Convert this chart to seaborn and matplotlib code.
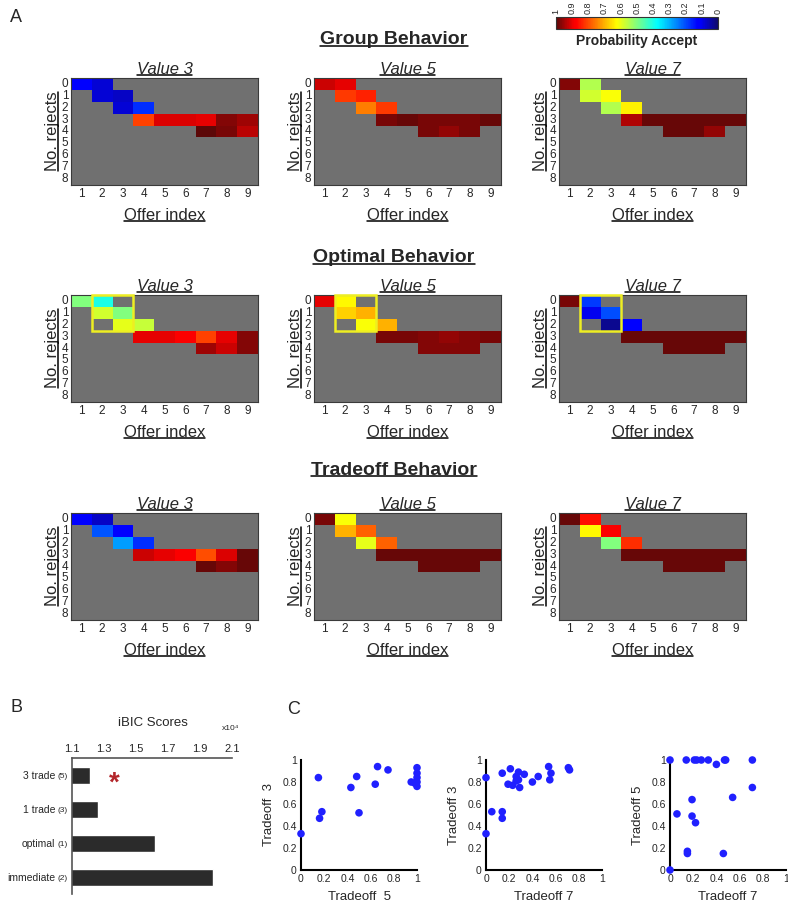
import numpy as np
import pandas as pd
import matplotlib
matplotlib.use("Agg")
import matplotlib.pyplot as plt
import seaborn as sns
from matplotlib.colors import LinearSegmentedColormap
from matplotlib.lines import Line2D
from matplotlib.patches import Rectangle

sns.set_style("white")
plt.rcParams["font.family"] = ["Liberation Sans", "DejaVu Sans"]

W, H = 788, 902
GREY = "#707070"
# jet-like map with the darker ends seen in the figure
CMAP = LinearSegmentedColormap.from_list("jet_dark", [
    (0.00, (0.06, 0.04, 0.42)), (0.11, (0.0, 0.0, 1.0)), (0.125, (0.0, 0.0, 1.0)),
    (0.375, (0.0, 1.0, 1.0)), (0.625, (1.0, 1.0, 0.0)), (0.875, (1.0, 0.0, 0.0)),
    (0.89, (0.97, 0.0, 0.0)), (1.00, (0.36, 0.03, 0.03))])

# ---- heatmap data (probability accept), rows 0-4 only, rest is empty ----
OFFERS = list(range(1, 10))
REJECTS = list(range(0, 9))
ROW_START = [1, 2, 3, 4]          # first offer shown in rows 0..3
ROW4_START = {3: 7, 5: 6, 7: 6}   # first offer shown in row 4, per value
VALUES = [3, 5, 7]
BEHAVIORS = ["Group Behavior", "Optimal Behavior", "Tradeoff Behavior"]

group_v3 = [[0.11, 0.08], [0.08, 0.07], [0.08, 0.17],
            [0.81, 0.91, 0.91, 0.90, 0.97, 0.95], [1.00, 0.98, 0.93]]
group_v5 = [[0.92, 0.90], [0.82, 0.84], [0.75, 0.82],
            [0.98, 0.99, 0.98, 0.98, 0.98, 0.99], [0.98, 0.96, 0.98]]
group_v7 = [[0.97, 0.55], [0.58, 0.62], [0.55, 0.64],
            [0.94, 0.99, 0.99, 0.99, 0.99, 0.99], [0.99, 0.99, 0.96]]
optimal_v3 = [[0.50, 0.40], [0.58, 0.50], [0.60, 0.57],
              [0.90, 0.90, 0.88, 0.81, 0.90, 0.97], [0.95, 0.92, 0.97]]
optimal_v5 = [[0.90, 0.63], [0.67, 0.70], [0.62, 0.70],
              [0.98, 0.98, 0.97, 0.96, 0.97, 0.98], [0.97, 0.97, 0.97]]
optimal_v7 = [[0.98, 0.18], [0.10, 0.20], [0.03, 0.12],
              [0.99, 0.99, 0.99, 0.99, 0.99, 0.99], [0.99, 0.99, 0.99]]
tradeoff_v3 = [[0.11, 0.07], [0.21, 0.11], [0.28, 0.17],
               [0.92, 0.90, 0.88, 0.80, 0.91, 0.99], [0.99, 0.97, 0.99]]
tradeoff_v5 = [[0.98, 0.62], [0.70, 0.78], [0.60, 0.78],
               [0.99, 0.99, 0.99, 0.99, 0.99, 0.99], [0.99, 0.99, 0.99]]
tradeoff_v7 = [[0.99, 0.86], [0.63, 0.88], [0.50, 0.83],
               [0.99, 0.99, 0.99, 0.99, 0.99, 0.99], [0.99, 0.99, 0.99]]

HEAT = [[group_v3, group_v5, group_v7],
        [optimal_v3, optimal_v5, optimal_v7],
        [tradeoff_v3, tradeoff_v5, tradeoff_v7]]
CB_TICKS = [0, 0.1, 0.2, 0.3, 0.4, 0.5, 0.6, 0.7, 0.8, 0.9, 1]

# ---- panel B ----
MODELS = ["3 trade", "1 trade", "optimal", "immediate"]
N_PARAMS = ["(5)", "(3)", "(1)", "(2)"]
IBIC = [1.21, 1.265, 1.62, 1.98]      # x10^4
IBIC_TICKS = [1.1, 1.3, 1.5, 1.7, 1.9, 2.1]

# ---- panel C ----
c1_t5 = [0.00, 0.15, 0.18, 0.16, 0.43, 0.48, 0.50, 0.64, 0.66, 0.75, 0.95, 0.98, 1.00, 1.00, 1.00, 1.00, 1.00]
c1_t3 = [0.33, 0.84, 0.53, 0.47, 0.75, 0.85, 0.52, 0.78, 0.94, 0.91, 0.80, 0.79, 0.93, 0.88, 0.84, 0.80, 0.76]
c2_t7 = [0.00, 0.00, 0.05, 0.14, 0.14, 0.14, 0.19, 0.21, 0.23, 0.26, 0.26, 0.28, 0.28, 0.29, 0.33, 0.40, 0.45,
         0.54, 0.56, 0.55, 0.71, 0.72]
c2_t3 = [0.84, 0.33, 0.53, 0.88, 0.53, 0.47, 0.78, 0.92, 0.77, 0.81, 0.85, 0.89, 0.82, 0.75, 0.87, 0.80, 0.85,
         0.94, 0.88, 0.82, 0.93, 0.91]
c3_t7 = [0.00, 0.00, 0.06, 0.14, 0.21, 0.23, 0.27, 0.33, 0.40, 0.47, 0.48, 0.71, 0.71, 0.54, 0.19, 0.19, 0.22,
         0.15, 0.15, 0.46]
c3_t5 = [1.00, 0.00, 0.51, 1.00, 1.00, 1.00, 1.00, 1.00, 0.96, 1.00, 1.00, 1.00, 0.75, 0.66, 0.64, 0.49, 0.43,
         0.17, 0.15, 0.15]
SCATTERS = [(c1_t5, c1_t3, "Tradeoff  5", "Tradeoff  3"),
            (c2_t7, c2_t3, "Tradeoff 7", "Tradeoff 3"),
            (c3_t7, c3_t5, "Tradeoff 7", "Tradeoff 5")]
UNIT_TICKS = [0, 0.2, 0.4, 0.6, 0.8, 1.0]


def rect(x, y_top, w, h):
    """Pixel box (top-left origin) -> figure fraction rect."""
    return [x / W, 1 - (y_top + h) / H, w / W, h / H]


def build_grid(rows, value):
    grid = np.full((len(REJECTS), len(OFFERS)), np.nan)
    starts = ROW_START + [ROW4_START[value]]
    for r, (s, vals) in enumerate(zip(starts, rows)):
        grid[r, s - 1:s - 1 + len(vals)] = vals
    return pd.DataFrame(grid, index=REJECTS, columns=OFFERS)


fig = plt.figure(figsize=(W / 100, H / 100), dpi=100)
underlined = []  # (text artist, rotated?)

ROW_TOPS = [78, 295, 513]
TITLE_Y = [40, 258, 470]
COL_LEFTS = [71, 314, 559]
cax = fig.add_axes(rect(556, 17, 162, 12))

for r, behavior in enumerate(BEHAVIORS):
    t = fig.text(0.5, 1 - TITLE_Y[r] / H, behavior, ha="center", va="center",
                 fontsize=14, fontweight="bold")
    underlined.append((t, False))
    for c, value in enumerate(VALUES):
        ax = fig.add_axes(rect(COL_LEFTS[c], ROW_TOPS[r], 187, 107))
        df = build_grid(HEAT[r][c], value)
        first = r == 0 and c == 0
        sns.heatmap(df, ax=ax, cmap=CMAP, vmin=0, vmax=1,
                    xticklabels=OFFERS, yticklabels=REJECTS,
                    cbar=first, cbar_ax=cax if first else None,
                    cbar_kws={"orientation": "horizontal", "ticks": CB_TICKS})
        ax.set_facecolor(GREY)
        for sp in ax.spines.values():
            sp.set_visible(True)
            sp.set_color("#3a3a3a")
            sp.set_linewidth(0.8)
        ax.tick_params(length=0, labelsize=8.5, pad=2)
        ax.set_yticklabels(REJECTS, rotation=0)
        ax.set_xticklabels(OFFERS, rotation=0)
        t = ax.set_title(f"Value {value}", fontsize=12, style="italic", pad=3)
        underlined.append((t, False))
        xl = ax.set_xlabel("Offer index", fontsize=12, labelpad=6)
        underlined.append((xl, False))
        yl = ax.set_ylabel("No. rejects", fontsize=12, labelpad=1)
        underlined.append((yl, True))
        if r == 1:
            # optimal tradeoff region
            ax.add_patch(Rectangle((1, 0), 2, 3, fill=False, edgecolor="#eeee22",
                                   linewidth=1.8, clip_on=False, zorder=5))

# colorbar styling
cb = fig.axes[1].collections[0].colorbar
cb.outline.set_linewidth(0.8)
cb.outline.set_edgecolor("#333333")
cax.invert_xaxis()
cax.xaxis.set_ticks_position("top")
cax.tick_params(length=0, labelsize=6.5, pad=2)
cax.set_xticklabels([f"{v:g}" for v in CB_TICKS], rotation=90)
fig.text(637 / W, 1 - 41 / H, "Probability Accept", ha="center", va="center",
         fontsize=10, fontweight="bold")

# ---- panel B: iBIC bars ----
axb = fig.add_axes(rect(72, 758, 160, 136))
sns.barplot(x=IBIC, y=MODELS, orient="h", color="#2b2b2b", width=0.5, ax=axb)
axb.set_xlim(1.1, 2.1)
axb.set_ylim(3.5, -0.5)
axb.xaxis.tick_top()
axb.set_xticks(IBIC_TICKS)
axb.set_xticklabels([f"{v:.1f}" for v in IBIC_TICKS])
axb.tick_params(axis="x", length=0, labelsize=8, pad=3)
axb.tick_params(axis="y", length=0, labelsize=7.5, pad=12)
axb.set_xlabel("")
axb.set_ylabel("")
for side in ["right", "bottom"]:
    axb.spines[side].set_visible(False)
for side in ["top", "left"]:
    axb.spines[side].set_color("#555555")
    axb.spines[side].set_linewidth(1.2)
for i, n in enumerate(N_PARAMS):
    axb.annotate(n, xy=(0, i), xycoords=("axes fraction", "data"), xytext=(-3, 0),
                 textcoords="offset points", ha="right", va="center_baseline", fontsize=6)
axb.text(1.366, 0.25, "*", color="#b3262b", fontsize=20, fontweight="bold",
         ha="center", va="center")
fig.text(153 / W, 1 - 723 / H, "iBIC Scores", ha="center", va="center", fontsize=9.5)
fig.text(222 / W, 1 - 729 / H, "x10\u2074", ha="left", va="center", fontsize=6)

# ---- panel C: scatters ----
SC_LEFTS = [301, 486, 670]
for (xs, ys, xlab, ylab), left in zip(SCATTERS, SC_LEFTS):
    ax = fig.add_axes(rect(left, 760, 116, 110))
    sns.scatterplot(x=xs, y=ys, ax=ax, color="#2020ff", s=30, edgecolor="none",
                    linewidth=0, clip_on=False, zorder=3)
    ax.set_xlim(0, 1)
    ax.set_ylim(0, 1)
    ax.set_xticks(UNIT_TICKS)
    ax.set_yticks(UNIT_TICKS)
    ax.set_xticklabels([f"{v:g}" for v in UNIT_TICKS])
    ax.set_yticklabels([f"{v:g}" for v in UNIT_TICKS])
    ax.tick_params(length=0, labelsize=7.5, pad=3)
    for side in ["right", "top"]:
        ax.spines[side].set_visible(False)
    for side in ["left", "bottom"]:
        ax.spines[side].set_color("black")
        ax.spines[side].set_linewidth(1.5)
    ax.set_xlabel(xlab, fontsize=9.5, labelpad=5)
    ax.set_ylabel(ylab, fontsize=9.5, labelpad=5)

# panel letters
fig.text(10 / W, 1 - 18 / H, "A", fontsize=13, va="center")
fig.text(10 / W, 1 - 708 / H, "B", fontsize=13, va="center")
fig.text(287 / W, 1 - 709 / H, "C", fontsize=13, va="center")

# underline titles / labels
fig.canvas.draw()
renderer = fig.canvas.get_renderer()
inv = fig.transFigure.inverted()
for t, rotated in underlined:
    bb = t.get_window_extent(renderer=renderer)
    off = 0.11 * t.get_fontsize() * fig.dpi / 72
    if rotated:
        (x0, y0), (x1, y1) = inv.transform([(bb.x1 - off, bb.y0), (bb.x1 - off, bb.y1)])
    else:
        (x0, y0), (x1, y1) = inv.transform([(bb.x0, bb.y0 + off), (bb.x1, bb.y0 + off)])
    fig.add_artist(Line2D([x0, x1], [y0, y1], transform=fig.transFigure,
                          color="black", linewidth=1.1))

fig.savefig("out.png", dpi=100)
